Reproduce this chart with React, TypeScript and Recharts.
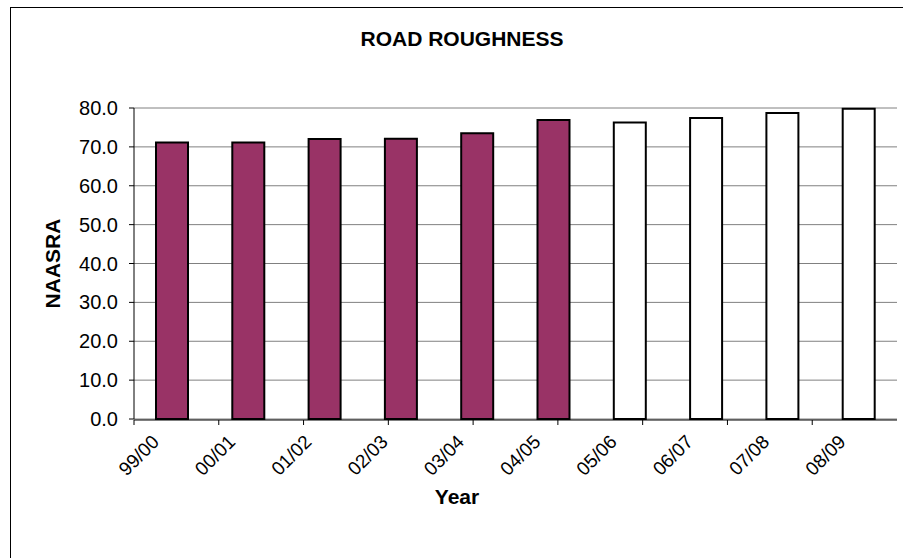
import React from 'react';
import { BarChart, Bar, XAxis, YAxis, CartesianGrid, Cell } from 'recharts';

const categories = ['99/00', '00/01', '01/02', '02/03', '03/04', '04/05', '05/06', '06/07', '07/08', '08/09'];
const roughness = [71.1, 71.1, 72.0, 72.1, 73.5, 76.9, 76.3, 77.4, 78.7, 79.8];
const kinds = ['actual', 'actual', 'actual', 'actual', 'actual', 'actual', 'forecast', 'forecast', 'forecast', 'forecast'];
const yTicks = [0, 10, 20, 30, 40, 50, 60, 70, 80];
const boundaries = [0, 1, 2, 3, 4, 5, 6, 7, 8, 9, 10];

const colors: Record<string, string> = { actual: '#993366', forecast: '#FFFFFF' };
const FONT = '"Liberation Sans", Arial, sans-serif';

const data = categories.map((c, i) => ({ year: c, value: roughness[i], kind: kinds[i] }));

const XTick = (props: any) => {
  const { x, y, payload } = props;
  const ax = x - 12;
  const ay = y + 24;
  return (
    <text
      x={ax}
      y={ay}
      transform={`rotate(-45 ${ax} ${ay})`}
      textAnchor="end"
      fontFamily={FONT}
      fontSize={19}
      fill="#000"
    >
      {payload.value}
    </text>
  );
};

const EmptyTick = () => <g />;

const YLabel = (props: any) => {
  const { viewBox } = props;
  const cx = viewBox.x + 42;
  const cy = viewBox.y + viewBox.height / 2;
  return (
    <text
      x={cx}
      y={cy}
      transform={`rotate(-90 ${cx} ${cy})`}
      textAnchor="middle"
      dominantBaseline="central"
      fontFamily={FONT}
      fontWeight="bold"
      fontSize={21}
      fill="#000"
    >
      NAASRA
    </text>
  );
};

export default function App() {
  return (
    <div style={{ position: 'absolute', left: 0, top: 0, width: 903, height: 558, background: '#fff', overflow: 'hidden' }}>
      <div
        style={{
          position: 'absolute',
          left: 10,
          top: 7,
          width: 893,
          height: 551,
          borderLeft: '1px solid #000',
          borderTop: '1px solid #000',
          boxSizing: 'border-box',
        }}
      />
      <div
        style={{
          position: 'absolute',
          left: 262,
          width: 400,
          top: 26,
          textAlign: 'center',
          fontFamily: FONT,
          fontWeight: 'bold',
          fontSize: 21,
          lineHeight: '26px',
        }}
      >
        ROAD ROUGHNESS
      </div>
      <div
        style={{
          position: 'absolute',
          left: 357,
          width: 200,
          top: 484,
          textAlign: 'center',
          fontFamily: FONT,
          fontWeight: 'bold',
          fontSize: 21,
          lineHeight: '26px',
        }}
      >
        Year
      </div>
      <div style={{ position: 'absolute', left: 0, top: 0 }}>
        <BarChart
          width={903}
          height={558}
          data={data}
          margin={{ top: 108, right: 6, bottom: 0, left: 10 }}
          barCategoryGap={0}
        >
          <CartesianGrid xAxisId="cat" yAxisId="left" vertical={false} stroke="#808080" strokeWidth={1} />
          <XAxis
            xAxisId="cat"
            dataKey="year"
            type="category"
            height={1}
            tickLine={false}
            axisLine={false}
            tickSize={0}
            tickMargin={0}
            interval={0}
            tick={<XTick />}
          />
          <XAxis
            xAxisId="edges"
            type="number"
            domain={[0, categories.length]}
            ticks={boundaries}
            allowDataOverflow
            height={138}
            tick={<EmptyTick />}
            tickSize={5}
            tickLine={{ stroke: '#000' }}
            axisLine={{ stroke: '#000' }}
          />
          <YAxis
            yAxisId="left"
            domain={[0, 80]}
            ticks={yTicks}
            width={124}
            tickSize={5}
            tickMargin={11}
            tickLine={{ stroke: '#000' }}
            axisLine={{ stroke: '#000' }}
            tickFormatter={(v: number) => v.toFixed(1)}
            tick={{ fontFamily: FONT, fontSize: 20, fill: '#000' }}
            label={<YLabel />}
          />
          <YAxis
            yAxisId="right"
            orientation="right"
            domain={[0, 80]}
            allowDataOverflow
            width={0}
            tick={false}
            tickLine={false}
            axisLine={{ stroke: '#808080' }}
          />
          <Bar
            xAxisId="cat"
            yAxisId="left"
            dataKey="value"
            barSize={32}
            stroke="#000"
            strokeWidth={2}
            isAnimationActive={false}
          >
            {data.map((d, i) => (
              <Cell key={i} fill={colors[d.kind]} />
            ))}
          </Bar>
        </BarChart>
      </div>
    </div>
  );
}
